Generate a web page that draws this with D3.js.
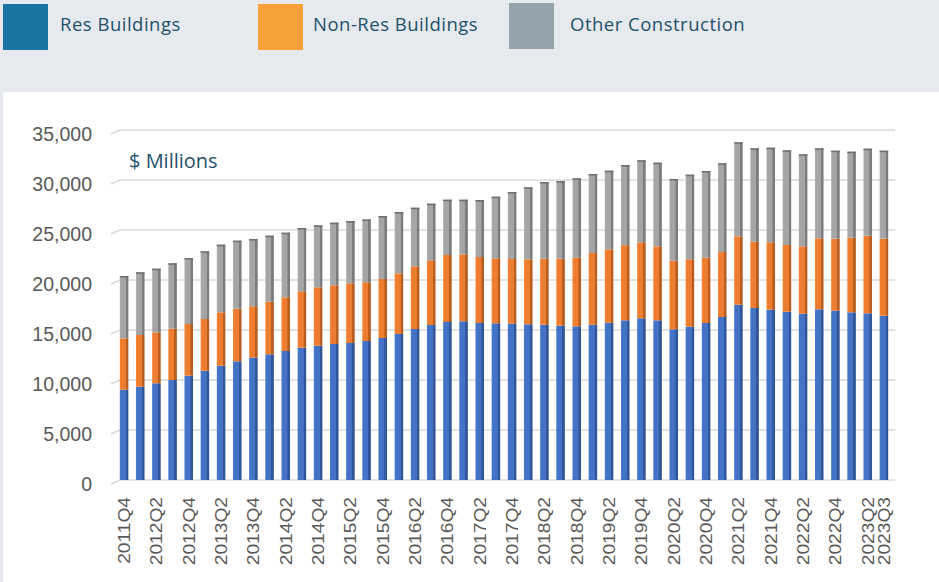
<!DOCTYPE html>
<html>
<head>
<meta charset="utf-8">
<script src="https://cdn.jsdelivr.net/npm/d3@7"></script>
<style>
  html, body { margin: 0; padding: 0; background: #e6eaee; }
  svg { display: block; }
</style>
</head>
<body>
<div id="chart"></div>
<script>
// Quarter categories
const quarters = [
    "2011Q4",
    "2012Q1", "2012Q2", "2012Q3", "2012Q4",
    "2013Q1", "2013Q2", "2013Q3", "2013Q4",
    "2014Q1", "2014Q2", "2014Q3", "2014Q4",
    "2015Q1", "2015Q2", "2015Q3", "2015Q4",
    "2016Q1", "2016Q2", "2016Q3", "2016Q4",
    "2017Q1", "2017Q2", "2017Q3", "2017Q4",
    "2018Q1", "2018Q2", "2018Q3", "2018Q4",
    "2019Q1", "2019Q2", "2019Q3", "2019Q4",
    "2020Q1", "2020Q2", "2020Q3", "2020Q4",
    "2021Q1", "2021Q2", "2021Q3", "2021Q4",
    "2022Q1", "2022Q2", "2022Q3", "2022Q4",
    "2023Q1", "2023Q2", "2023Q3"
];

// Series values ($ millions)
const resBuildings = [
    9030, 9330, 9670, 10000, 10430, 10930, 11430, 11870, 12230, 12570, 12900, 13230,
    13430, 13600, 13700, 13900, 14200, 14600, 15100, 15500, 15800, 15870, 15700, 15670,
    15630, 15570, 15530, 15430, 15370, 15530, 15730, 15970, 16170, 15970, 15070, 15330,
    15700, 16300, 17530, 17200, 17030, 16830, 16630, 17070, 16930, 16770, 16670, 16430
];
const nonResBuildings = [
    5140, 5170, 5100, 5130, 5170, 5170, 5340, 5260, 5140, 5260, 5370, 5640,
    5840, 5870, 5970, 5880, 5900, 6070, 6270, 6470, 6700, 6700, 6600, 6500,
    6470, 6500, 6600, 6700, 6860, 7170, 7340, 7510, 7600, 7400, 6860, 6740,
    6530, 6500, 6840, 6630, 6740, 6670, 6740, 7100, 7200, 7460, 7760, 7700
];
const otherConstruction = [
    6230, 6270, 6360, 6540, 6600, 6770, 6760, 6800, 6730, 6600, 6460, 6330,
    6200, 6260, 6230, 6270, 6300, 6130, 5860, 5660, 5530, 5460, 5700, 6160,
    6700, 7200, 7670, 7770, 7940, 7900, 7860, 8020, 8200, 8360, 8170, 8460,
    8670, 8870, 9400, 9340, 9460, 9470, 9200, 9000, 8800, 8600, 8700, 8800
];

// Axis ticks
const xTickLabels = [
    "2011Q4", "2012Q2", "2012Q4", "2013Q2", "2013Q4", "2014Q2", "2014Q4",
    "2015Q2", "2015Q4", "2016Q2", "2016Q4", "2017Q2", "2017Q4", "2018Q2",
    "2018Q4", "2019Q2", "2019Q4", "2020Q2", "2020Q4", "2021Q2", "2021Q4",
    "2022Q2", "2022Q4", "2023Q2", "2023Q3"
];
const yTicks = [0, 5000, 10000, 15000, 20000, 25000, 30000, 35000];

// Legend entries
const seriesKeys = ["res", "nonRes", "other"];
const legendLabels = ["Res Buildings", "Non-Res Buildings", "Other Construction"];
const legendColors = ["#1c74a2", "#f8a13a", "#95a3aa"];
const barColors = ["#4472c4", "#ed7d31", "#a5a5a5"];
const barShades = ["#30569a", "#b95e1f", "#7c7c7c"];

const width = 939;
const height = 582;

const svg = d3.select("#chart")
    .append("svg")
    .attr("width", width)
    .attr("height", height);

// Background band and white chart panel
svg.append("rect")
    .attr("width", width).attr("height", height)
    .attr("fill", "#e6eaee");
svg.append("rect")
    .attr("x", 3).attr("y", 92)
    .attr("width", width - 3).attr("height", height - 92)
    .attr("fill", "#ffffff");

// Legend
const legendX = [3, 258, 509];
const legendTextX = [57, 55, 61];
const legend = svg.append("g")
    .selectAll("g")
    .data(legendLabels)
    .join("g")
    .attr("transform", (d, i) => `translate(${legendX[i]},${i === 2 ? 3 : 4})`);

legend.append("rect")
    .attr("width", 45)
    .attr("height", 46)
    .attr("fill", (d, i) => legendColors[i]);

legend.append("text")
    .text(d => d)
    .attr("x", (d, i) => legendTextX[i])
    .attr("y", (d, i) => i === 2 ? 22 : 21)
    .attr("dy", "0.35em")
    .style("font-family", "'Open Sans', sans-serif")
    .style("font-size", "18.5px")
    .style("letter-spacing", "0.5px")
    .style("fill", "#24506b");

// Data table built from the arrays
const table = quarters.map((q, i) => ({
    quarter: q,
    res: resBuildings[i],
    nonRes: nonResBuildings[i],
    other: otherConstruction[i]
}));

const stacked = d3.stack().keys(seriesKeys)(table);

// Scales
const x = d3.scaleBand()
    .domain(quarters)
    .range([116, 892])
    .paddingInner(0.47)
    .paddingOuter(0.235);

const y = d3.scaleLinear()
    .domain([0, 35000])
    .range([480, 130]);

// Gradients for the 3D column look
const defs = svg.append("defs");
seriesKeys.forEach((k, i) => {
    const grad = defs.append("linearGradient")
        .attr("id", "grad-" + k)
        .attr("x1", 0).attr("x2", 1).attr("y1", 0).attr("y2", 0);
    grad.append("stop").attr("offset", 0).attr("stop-color", d3.color(barColors[i]).brighter(0.25));
    grad.append("stop").attr("offset", 0.15).attr("stop-color", barColors[i]);
    grad.append("stop").attr("offset", 0.68).attr("stop-color", barColors[i]);
    grad.append("stop").attr("offset", 0.72).attr("stop-color", barShades[i]);
    grad.append("stop").attr("offset", 1).attr("stop-color", barShades[i]);
});

// Gridlines (with the short slanted side-wall stub)
svg.append("g")
    .selectAll("path")
    .data(yTicks)
    .join("path")
    .attr("d", d => `M111,${y(d) + 4} L120,${y(d)} L895,${y(d)}`)
    .attr("fill", "none")
    .attr("stroke", "#d9d9d9")
    .attr("stroke-width", 1.5);

// Bars
svg.append("g")
    .selectAll("g")
    .data(stacked)
    .join("g")
    .attr("fill", d => `url(#grad-${d.key})`)
    .selectAll("rect")
    .data(d => d)
    .join("rect")
    .attr("x", d => x(d.data.quarter))
    .attr("y", d => y(d[1]))
    .attr("width", x.bandwidth())
    .attr("height", d => y(d[0]) - y(d[1]));

// Darker cap on top of each column
svg.append("g")
    .selectAll("rect")
    .data(stacked[2])
    .join("rect")
    .attr("x", d => x(d.data.quarter))
    .attr("y", d => y(d[1]))
    .attr("width", x.bandwidth())
    .attr("height", 1.5)
    .attr("fill", "#6f6f6f");

// Y axis
const yAxis = svg.append("g")
    .attr("transform", "translate(92,0)")
    .call(d3.axisLeft(y).tickValues(yTicks).tickSize(0).tickPadding(0).tickFormat(d3.format(",")));
yAxis.select(".domain").remove();
yAxis.selectAll("text")
    .attr("dy", "0.36em")
    .attr("y", 3.5)
    .style("font-family", "'Liberation Sans', Arial, sans-serif")
    .style("font-size", "19.5px")
    .style("fill", "#595959");

// X axis with rotated labels
const xAxis = svg.append("g")
    .attr("transform", "translate(0,480)")
    .call(d3.axisBottom(x).tickValues(xTickLabels).tickSize(0));
xAxis.select(".domain").remove();
xAxis.selectAll("text")
    .attr("x", 0)
    .attr("y", 0)
    .attr("dy", "0.36em")
    .attr("text-anchor", "end")
    .attr("transform", "translate(0,17) rotate(-90) scale(1.2,1)")
    .style("font-family", "'Liberation Sans', Arial, sans-serif")
    .style("font-size", "16px")
    .style("fill", "#595959");

// Units label
svg.append("text")
    .text("$ Millions")
    .attr("x", 129)
    .attr("y", 168)
    .style("font-family", "'Open Sans', sans-serif")
    .style("font-size", "20px")
    .style("fill", "#24506b");
</script>
</body>
</html>
